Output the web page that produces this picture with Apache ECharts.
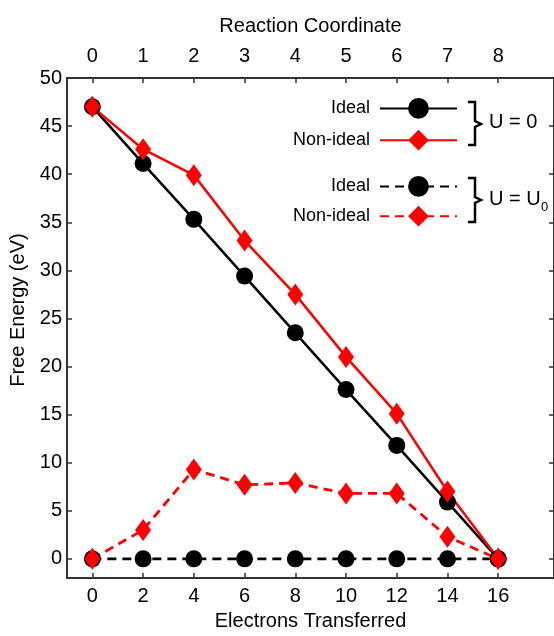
<!DOCTYPE html>
<html>
<head>
<meta charset="utf-8">
<script src="https://cdn.jsdelivr.net/npm/echarts@6/dist/echarts.min.js"></script>
<style>
  html, body { margin: 0; padding: 0; background: #fff; }
  #main { width: 554px; height: 636px; }
</style>
</head>
<body>
<div id="main"></div>
<script>
// electrons transferred (bottom axis) and reaction coordinate (top axis)
var electrons = [0, 2, 4, 6, 8, 10, 12, 14, 16];
var reactionTicks = [0, 1, 2, 3, 4, 5, 6, 7, 8];
var energyTicks = [0, 5, 10, 15, 20, 25, 30, 35, 40, 45, 50];

// free energy (eV)
var idealU0 = [47, 41.1, 35.3, 29.4, 23.5, 17.6, 11.8, 5.9, 0];
var nonIdealU0 = [47, 42.6, 39.9, 33.1, 27.5, 21.0, 15.1, 7.0, 0];
var idealUlim = [0, 0, 0, 0, 0, 0, 0, 0, 0];
var nonIdealUlim = [0, 3.0, 9.3, 7.7, 7.9, 6.8, 6.8, 2.3, 0];

function pairs(ys) {
    var out = [];
    for (var i = 0; i < electrons.length; i++) {
        out.push([electrons[i], ys[i]]);
    }
    return out;
}

var font = 'Liberation Sans, Arial, Helvetica, sans-serif';
var axisColor = '#333';

function mkSeries(name, data, color, symbol, size, dashed) {
    return {
        name: name,
        type: 'line',
        data: pairs(data),
        symbol: symbol,
        symbolSize: size,
        showSymbol: true,
        animation: false,
        color: color,
        itemStyle: { color: color },
        lineStyle: { color: color, width: dashed ? 2.8 : 2.5, type: dashed ? [9, 6] : 'solid' }
    };
}

function axisBase(ticks) {
    return {
        splitLine: { show: false },
        axisLine: { onZero: false, lineStyle: { color: axisColor, width: 2 } },
        axisTick: { inside: true, length: 5, customValues: ticks, lineStyle: { color: axisColor, width: 1.5 } }
    };
}

var chart = echarts.init(document.getElementById('main'));

var legendCommon = {
    orient: 'vertical',
    align: 'right',
    right: 96,
    padding: 0,
    itemWidth: 77,
    itemHeight: 26,
    selectedMode: false,
    textStyle: { fontFamily: font, fontSize: 18, color: '#000', padding: [0, 5, 0, 0] },
    formatter: function (name) { return name.split('|')[0]; }
};

chart.setOption({
    backgroundColor: '#fff',
    animation: false,
    grid: { left: 66, right: 0, top: 78, bottom: 49 },
    xAxis: [Object.assign(axisBase(electrons), {
        type: 'value',
        min: -1,
        max: 18.2,
        position: 'bottom',
        name: 'Electrons Transferred',
        nameLocation: 'middle',
        nameGap: 27,
        nameTextStyle: { fontFamily: font, fontSize: 20, color: '#000' },
        axisLabel: { customValues: electrons, margin: 8, fontFamily: font, fontSize: 20, color: '#000' }
    }), Object.assign(axisBase(reactionTicks), {
        type: 'value',
        min: -0.5,
        max: 9.1,
        position: 'top',
        name: 'Reaction Coordinate',
        nameLocation: 'middle',
        nameGap: 42,
        nameTextStyle: { fontFamily: font, fontSize: 20, color: '#000' },
        axisLabel: { customValues: reactionTicks, margin: 12, fontFamily: font, fontSize: 20, color: '#000' }
    })],
    yAxis: [Object.assign(axisBase(energyTicks), {
        type: 'value',
        min: -2,
        max: 50,
        position: 'left',
        name: 'Free Energy (eV)',
        nameLocation: 'middle',
        nameGap: 39,
        nameTextStyle: { fontFamily: font, fontSize: 20, color: '#000', padding: [0, 0, 0, 36] },
        axisLabel: { customValues: energyTicks, margin: 5, fontFamily: font, fontSize: 20, color: '#000' }
    }), Object.assign(axisBase(energyTicks), {
        type: 'value',
        min: -2,
        max: 50,
        position: 'right',
        axisLabel: { show: false }
    })],
    legend: [
        Object.assign({}, legendCommon, { top: 98, itemGap: 11, data: ['Ideal|U=0', 'Non-ideal|U=0'] }),
        Object.assign({}, legendCommon, { top: 176, itemGap: 9, data: ['Ideal|U=U0', 'Non-ideal|U=U0'] })
    ],
    series: [
        mkSeries('Ideal|U=0', idealU0, '#000', 'circle', 17, false),
        mkSeries('Ideal|U=U0', idealUlim, '#000', 'circle', 17, true),
        mkSeries('Non-ideal|U=0', nonIdealU0, '#ff0000', 'diamond', [16, 22], false),
        mkSeries('Non-ideal|U=U0', nonIdealUlim, '#ff0000', 'diamond', [16, 22], true)
    ],
    graphic: [
        // braces grouping the legend entries
        {
            type: 'polyline',
            shape: { points: [[468, 102], [475, 102], [475, 121], [481, 124], [475, 127], [475, 145], [468, 145]] },
            style: { stroke: '#000', lineWidth: 2.5, fill: null }
        },
        {
            type: 'polyline',
            shape: { points: [[468, 178], [475, 178], [475, 197], [481, 200], [475, 203], [475, 222], [468, 222]] },
            style: { stroke: '#000', lineWidth: 2.5, fill: null }
        },
        {
            type: 'text',
            left: 489,
            top: 112,
            style: { text: 'U = 0', fontFamily: font, fontSize: 20, fill: '#000' }
        },
        {
            type: 'text',
            left: 489,
            top: 189,
            style: { text: 'U = U', fontFamily: font, fontSize: 20, fill: '#000' }
        },
        {
            type: 'text',
            left: 541,
            top: 201,
            style: { text: '0', fontFamily: font, fontSize: 13, fill: '#000' }
        }
    ]
});
</script>
</body>
</html>
